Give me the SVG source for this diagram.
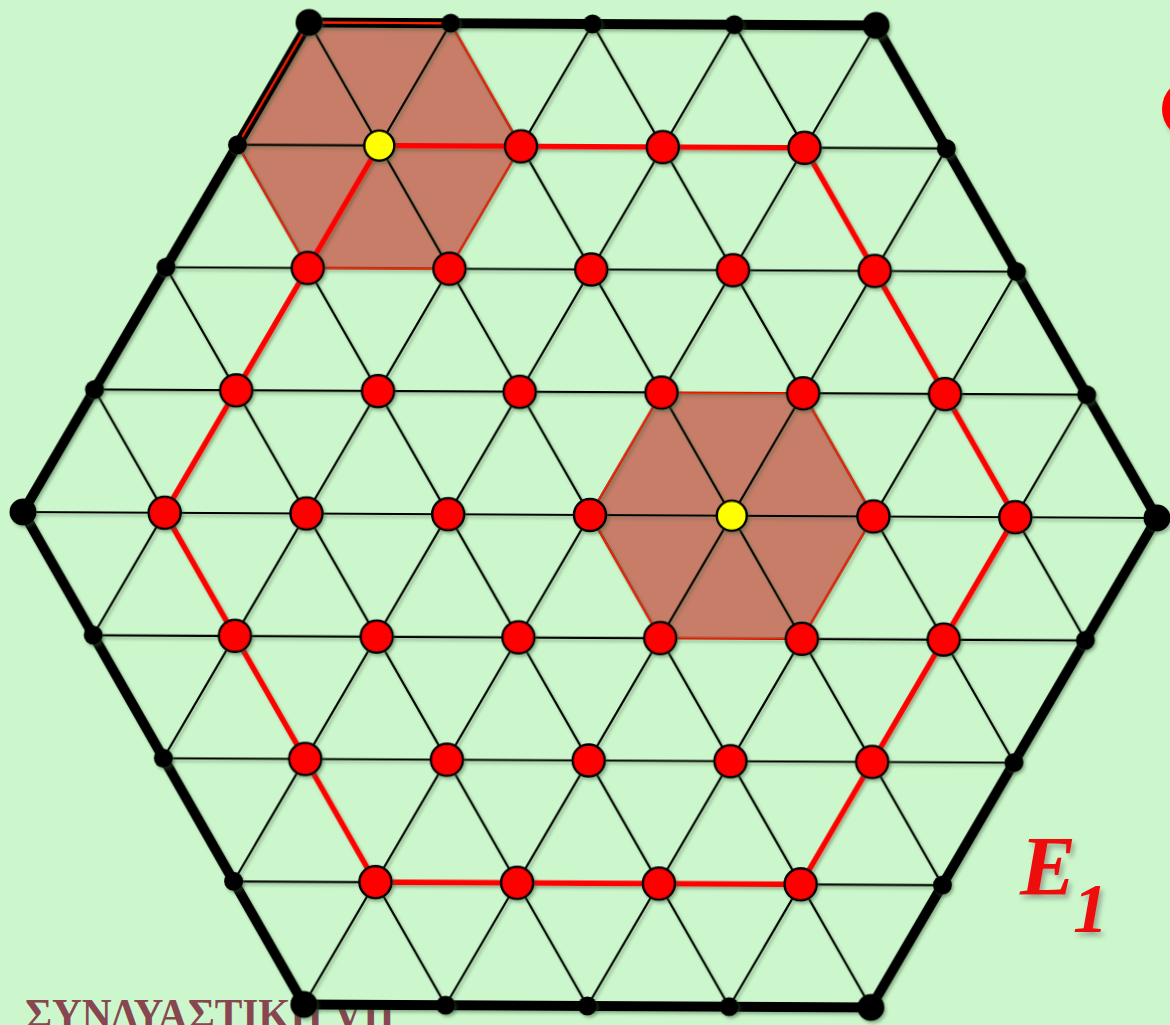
<svg xmlns="http://www.w3.org/2000/svg" width="1170" height="1025" viewBox="0 0 1170 1025">
<style>
.bg{fill:#ccf7cc}
.shade{fill:#c77d68;stroke:none}
.outline{fill:none;stroke:#ff2000;stroke-width:1.8;stroke-linejoin:round}
.gl{stroke:#000;stroke-width:2.2;stroke-linecap:round}
.border{fill:none;stroke:#000;stroke-width:10;stroke-linejoin:round}
.ring{fill:none;stroke:#ff0000;stroke-width:5.5;stroke-linejoin:round}
.red{fill:#ff0000;stroke:#000;stroke-width:2.5}
.yel{fill:#ffff00;stroke:#000;stroke-width:2.5}
.dot{fill:#000}
.lbl{font-family:"Liberation Serif",serif;font-weight:bold;font-style:italic;fill:#ee1111}
.title{font-family:"Liberation Serif",serif;font-weight:bold;fill:#874650}
</style>
<defs>
<filter id="sh" x="-5%" y="-5%" width="110%" height="110%">
<feDropShadow dx="2" dy="2.5" stdDeviation="1.6" flood-color="#3a5a3a" flood-opacity="0.4"/>
</filter>
<filter id="tsh" x="-20%" y="-20%" width="140%" height="140%">
<feDropShadow dx="3" dy="4" stdDeviation="2.5" flood-color="#555" flood-opacity="0.45"/>
</filter>
</defs>
<rect class="bg" x="0" y="0" width="1170" height="1025"/>
<ellipse cx="1191" cy="109" rx="29" ry="30" fill="#ff0000" filter="url(#tsh)"/>
<text class="title" x="25" y="1029" font-size="44" textLength="370" lengthAdjust="spacingAndGlyphs">ΣΥΝΔΥΑΣΤΙΚΗ VII</text>
<g transform="translate(590 515) rotate(0.3)">
<g id="shading">
<polygon class="shade" points="-354.4,-368.3 -283.5,-491 -141.8,-491 -70.9,-368.3 -141.8,-245.5 -283.5,-245.5"/>
<polygon class="shade" points="0,0 70.9,-122.8 212.6,-122.8 283.5,0 212.6,122.8 70.9,122.8"/>
</g>
<g id="connectors" filter="url(#sh)">
<line class="gl" x1="-354.4" y1="-368.3" x2="354.4" y2="-368.3"/>
<line class="gl" x1="-425.3" y1="-245.5" x2="425.3" y2="-245.5"/>
<line class="gl" x1="-496.1" y1="-122.8" x2="496.1" y2="-122.8"/>
<line class="gl" x1="-567" y1="0" x2="567" y2="0"/>
<line class="gl" x1="-496.1" y1="122.8" x2="496.1" y2="122.8"/>
<line class="gl" x1="-425.3" y1="245.5" x2="425.3" y2="245.5"/>
<line class="gl" x1="-354.4" y1="368.3" x2="354.4" y2="368.3"/>
<line class="gl" x1="-496.1" y1="-122.8" x2="-141.8" y2="491"/>
<line class="gl" x1="-425.3" y1="-245.5" x2="0" y2="491"/>
<line class="gl" x1="-354.4" y1="-368.3" x2="141.8" y2="491"/>
<line class="gl" x1="-283.5" y1="-491" x2="283.5" y2="491"/>
<line class="gl" x1="-141.8" y1="-491" x2="354.4" y2="368.3"/>
<line class="gl" x1="0" y1="-491" x2="425.3" y2="245.5"/>
<line class="gl" x1="141.8" y1="-491" x2="496.1" y2="122.8"/>
<line class="gl" x1="-141.8" y1="-491" x2="-496.1" y2="122.8"/>
<line class="gl" x1="0" y1="-491" x2="-425.3" y2="245.5"/>
<line class="gl" x1="141.8" y1="-491" x2="-354.4" y2="368.3"/>
<line class="gl" x1="283.5" y1="-491" x2="-283.5" y2="491"/>
<line class="gl" x1="354.4" y1="-368.3" x2="-141.8" y2="491"/>
<line class="gl" x1="425.3" y1="-245.5" x2="0" y2="491"/>
<line class="gl" x1="496.1" y1="-122.8" x2="141.8" y2="491"/>
<polygon id="outer-border" class="border" points="-283.5,-491 283.5,-491 567,0 283.5,491 -283.5,491 -567,0"/>
<polygon class="outline" points="-354.4,-368.3 -283.5,-491 -141.8,-491 -70.9,-368.3 -141.8,-245.5 -283.5,-245.5"/>
<polygon class="outline" points="0,0 70.9,-122.8 212.6,-122.8 283.5,0 212.6,122.8 70.9,122.8"/>
<polygon id="red-ring" class="ring" points="-212.6,-368.3 212.6,-368.3 425.3,0 212.6,368.3 -212.6,368.3 -425.3,0"/>
</g>
<g id="nodes" filter="url(#sh)">
<g id="c1"><circle class="dot" cx="-283.5" cy="-491" r="13.5"/></g>
<g id="c2"><circle class="dot" cx="283.5" cy="-491" r="13.5"/></g>
<g id="c3"><circle class="dot" cx="567" cy="0" r="13.5"/></g>
<g id="c4"><circle class="dot" cx="283.5" cy="491" r="13.5"/></g>
<g id="c5"><circle class="dot" cx="-283.5" cy="491" r="13.5"/></g>
<g id="c6"><circle class="dot" cx="-567" cy="0" r="13.5"/></g>
<g id="b1"><circle class="dot" cx="-141.8" cy="-491" r="9.5"/></g>
<g id="b2"><circle class="dot" cx="0" cy="-491" r="9.5"/></g>
<g id="b3"><circle class="dot" cx="141.8" cy="-491" r="9.5"/></g>
<g id="b4"><circle class="dot" cx="-354.4" cy="-368.3" r="9.5"/></g>
<g id="b5"><circle class="dot" cx="354.4" cy="-368.3" r="9.5"/></g>
<g id="b6"><circle class="dot" cx="-425.3" cy="-245.5" r="9.5"/></g>
<g id="b7"><circle class="dot" cx="425.3" cy="-245.5" r="9.5"/></g>
<g id="b8"><circle class="dot" cx="-496.1" cy="-122.8" r="9.5"/></g>
<g id="b9"><circle class="dot" cx="496.1" cy="-122.8" r="9.5"/></g>
<g id="b10"><circle class="dot" cx="-496.1" cy="122.8" r="9.5"/></g>
<g id="b11"><circle class="dot" cx="496.1" cy="122.8" r="9.5"/></g>
<g id="b12"><circle class="dot" cx="-425.3" cy="245.5" r="9.5"/></g>
<g id="b13"><circle class="dot" cx="425.3" cy="245.5" r="9.5"/></g>
<g id="b14"><circle class="dot" cx="-354.4" cy="368.3" r="9.5"/></g>
<g id="b15"><circle class="dot" cx="354.4" cy="368.3" r="9.5"/></g>
<g id="b16"><circle class="dot" cx="-141.8" cy="491" r="9.5"/></g>
<g id="b17"><circle class="dot" cx="0" cy="491" r="9.5"/></g>
<g id="b18"><circle class="dot" cx="141.8" cy="491" r="9.5"/></g>
<g id="y1"><circle class="yel" cx="-212.6" cy="-368.3" r="15"/></g>
<g id="n1"><circle class="red" cx="-70.9" cy="-368.3" r="16"/></g>
<g id="n2"><circle class="red" cx="70.9" cy="-368.3" r="16"/></g>
<g id="n3"><circle class="red" cx="212.6" cy="-368.3" r="16"/></g>
<g id="n4"><circle class="red" cx="-283.5" cy="-245.5" r="16"/></g>
<g id="n5"><circle class="red" cx="-141.8" cy="-245.5" r="16"/></g>
<g id="n6"><circle class="red" cx="0" cy="-245.5" r="16"/></g>
<g id="n7"><circle class="red" cx="141.8" cy="-245.5" r="16"/></g>
<g id="n8"><circle class="red" cx="283.5" cy="-245.5" r="16"/></g>
<g id="n9"><circle class="red" cx="-354.4" cy="-122.8" r="16"/></g>
<g id="n10"><circle class="red" cx="-212.6" cy="-122.8" r="16"/></g>
<g id="n11"><circle class="red" cx="-70.9" cy="-122.8" r="16"/></g>
<g id="n12"><circle class="red" cx="70.9" cy="-122.8" r="16"/></g>
<g id="n13"><circle class="red" cx="212.6" cy="-122.8" r="16"/></g>
<g id="n14"><circle class="red" cx="354.4" cy="-122.8" r="16"/></g>
<g id="n15"><circle class="red" cx="-425.3" cy="0" r="16"/></g>
<g id="n16"><circle class="red" cx="-283.5" cy="0" r="16"/></g>
<g id="n17"><circle class="red" cx="-141.8" cy="0" r="16"/></g>
<g id="n18"><circle class="red" cx="0" cy="0" r="16"/></g>
<g id="y2"><circle class="yel" cx="141.8" cy="0" r="15"/></g>
<g id="n19"><circle class="red" cx="283.5" cy="0" r="16"/></g>
<g id="n20"><circle class="red" cx="425.3" cy="0" r="16"/></g>
<g id="n21"><circle class="red" cx="-354.4" cy="122.8" r="16"/></g>
<g id="n22"><circle class="red" cx="-212.6" cy="122.8" r="16"/></g>
<g id="n23"><circle class="red" cx="-70.9" cy="122.8" r="16"/></g>
<g id="n24"><circle class="red" cx="70.9" cy="122.8" r="16"/></g>
<g id="n25"><circle class="red" cx="212.6" cy="122.8" r="16"/></g>
<g id="n26"><circle class="red" cx="354.4" cy="122.8" r="16"/></g>
<g id="n27"><circle class="red" cx="-283.5" cy="245.5" r="16"/></g>
<g id="n28"><circle class="red" cx="-141.8" cy="245.5" r="16"/></g>
<g id="n29"><circle class="red" cx="0" cy="245.5" r="16"/></g>
<g id="n30"><circle class="red" cx="141.8" cy="245.5" r="16"/></g>
<g id="n31"><circle class="red" cx="283.5" cy="245.5" r="16"/></g>
<g id="n32"><circle class="red" cx="-212.6" cy="368.3" r="16"/></g>
<g id="n33"><circle class="red" cx="-70.9" cy="368.3" r="16"/></g>
<g id="n34"><circle class="red" cx="70.9" cy="368.3" r="16"/></g>
<g id="n35"><circle class="red" cx="212.6" cy="368.3" r="16"/></g>
</g>
</g>
<g id="label" filter="url(#tsh)">
<text class="lbl" x="1020" y="895" font-size="84">E<tspan x="1073" y="932" font-size="70">1</tspan></text>
</g>
</svg>
